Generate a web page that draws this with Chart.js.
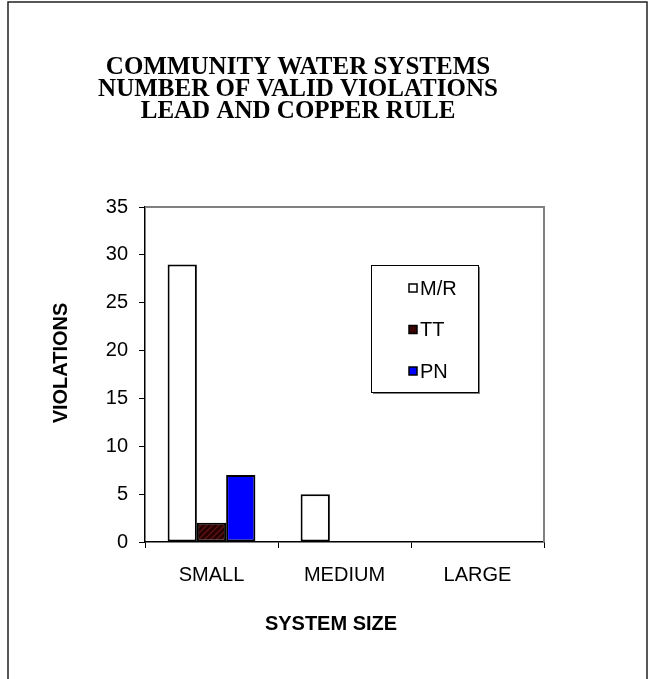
<!DOCTYPE html>
<html>
<head>
<meta charset="utf-8">
<title>Lead and Copper Rule violations</title>
<script src="https://cdn.jsdelivr.net/npm/chart.js@4.4.1/dist/chart.umd.min.js"></script>
<style>
  html, body { margin: 0; padding: 0; background: #fff; }
  canvas { display: block; }
</style>
</head>
<body>
<canvas id="violationsChart" width="655" height="679"></canvas>
<script>
// chart data
const categories = ['SMALL', 'MEDIUM', 'LARGE'];
const seriesNames = ['M/R', 'TT', 'PN'];
const mrValues = [29, 5, 0];
const ttValues = [2, 0, 0];
const pnValues = [7, 0, 0];
const yTicks = [0, 5, 10, 15, 20, 25, 30, 35];

const titleLines = ['COMMUNITY WATER SYSTEMS', 'NUMBER OF VALID VIOLATIONS', 'LEAD AND COPPER RULE'];
const xTitle = 'SYSTEM SIZE';
const yTitle = 'VIOLATIONS';

const sansFont = '"Liberation Sans", Arial, sans-serif';
const serifFont = '"Liberation Serif", "Times New Roman", serif';

// dark maroon with diagonal hatch, like the TT bars
function makeHatch() {
    const c = document.createElement('canvas');
    c.width = 6;
    c.height = 6;
    const g = c.getContext('2d');
    g.fillStyle = '#260000';
    g.fillRect(0, 0, 6, 6);
    g.strokeStyle = '#5c1414';
    g.lineWidth = 1.3;
    g.beginPath();
    g.moveTo(-1, 7); g.lineTo(7, -1);
    g.moveTo(-4, 4); g.lineTo(4, -4);
    g.moveTo(2, 10); g.lineTo(10, 2);
    g.stroke();
    return g.createPattern(c, 'repeat');
}

const hatch = makeHatch();

// frame, plot border, titles and the boxed legend
const decorations = {
    id: 'decorations',
    beforeDraw(chart) {
        const ctx = chart.ctx;
        ctx.save();
        ctx.fillStyle = '#fff';
        ctx.fillRect(0, 0, chart.width, chart.height);
        ctx.strokeStyle = '#222';
        ctx.lineWidth = 1.5;
        ctx.beginPath();
        ctx.moveTo(8, chart.height + 2);
        ctx.lineTo(8, 2);
        ctx.lineTo(647, 2);
        ctx.lineTo(647, chart.height + 2);
        ctx.stroke();
        ctx.restore();
    },
    beforeDatasetsDraw(chart) {
        const a = chart.chartArea;
        const ctx = chart.ctx;
        ctx.save();
        ctx.strokeStyle = '#808080';
        ctx.lineWidth = 2;
        ctx.beginPath();
        ctx.moveTo(a.left, a.top);
        ctx.lineTo(a.right, a.top);
        ctx.lineTo(a.right, a.bottom);
        ctx.stroke();
        ctx.restore();
    },
    afterDraw(chart) {
        const ctx = chart.ctx;
        ctx.save();
        ctx.fillStyle = '#000';
        ctx.textAlign = 'center';
        ctx.textBaseline = 'middle';

        ctx.font = 'bold 25px ' + serifFont;
        titleLines.forEach((line, i) => ctx.fillText(line, 298, 68 + i * 22));

        ctx.font = 'bold 20px ' + sansFont;
        ctx.fillText(xTitle, 331, 624);
        ctx.save();
        ctx.translate(61, 363);
        ctx.rotate(-Math.PI / 2);
        ctx.fillText(yTitle, 0, 0);
        ctx.restore();

        // legend box with a grey drop shadow
        const box = { x: 371, y: 265, w: 107, h: 127 };
        ctx.fillStyle = '#808080';
        ctx.fillRect(box.x + 2, box.y + 2, box.w, box.h);
        ctx.fillStyle = '#fff';
        ctx.fillRect(box.x, box.y, box.w, box.h);
        ctx.strokeStyle = '#000';
        ctx.lineWidth = 1;
        ctx.strokeRect(box.x + 0.5, box.y + 0.5, box.w, box.h);

        ctx.textAlign = 'left';
        ctx.font = '20px ' + sansFont;
        chart.data.datasets.forEach((ds, i) => {
            const cy = 288 + i * 41.5;
            ctx.fillStyle = ds.legendColor;
            ctx.fillRect(409, cy - 4, 8, 8);
            ctx.strokeStyle = '#000';
            ctx.lineWidth = 1.5;
            ctx.strokeRect(409, cy - 4, 8, 8);
            ctx.fillStyle = '#000';
            ctx.fillText(ds.label, 420, cy + 1);
        });
        ctx.restore();
    }
};

function buildChart() {
    const canvas = document.getElementById('violationsChart');
    const ctx = canvas.getContext('2d');

    return new Chart(ctx, {
        type: 'bar',
        data: {
            labels: categories,
            datasets: [
                { label: seriesNames[0], data: mrValues, backgroundColor: '#ffffff', legendColor: '#ffffff' },
                { label: seriesNames[1], data: ttValues, backgroundColor: hatch, legendColor: '#3a0505' },
                { label: seriesNames[2], data: pnValues, backgroundColor: '#0000ff', legendColor: '#0000ff' }
            ]
        },
        options: {
            responsive: false,
            animation: false,
            devicePixelRatio: 1,
            layout: { padding: { left: 8, top: 207, right: 111, bottom: 0 } },
            datasets: {
                bar: {
                    borderColor: '#000',
                    borderWidth: 2,
                    borderSkipped: false,
                    categoryPercentage: 0.66,
                    barPercentage: 1.0
                }
            },
            plugins: {
                legend: { display: false },
                title: { display: false },
                tooltip: { enabled: false }
            },
            scales: {
                x: {
                    offset: true,
                    grid: {
                        offset: true,
                        drawOnChartArea: false,
                        tickLength: 6,
                        color: '#000',
                        lineWidth: 1
                    },
                    border: { display: true, color: '#000', width: 1.5 },
                    ticks: {
                        color: '#000',
                        padding: 15,
                        maxRotation: 0,
                        font: { family: sansFont, size: 20 }
                    },
                    afterFit(scale) { scale.height = 137; }
                },
                y: {
                    min: 0,
                    max: 35,
                    afterBuildTicks(scale) { scale.ticks = yTicks.map(v => ({ value: v })); },
                    grid: {
                        drawOnChartArea: false,
                        tickLength: 6,
                        color: '#000',
                        lineWidth: 1
                    },
                    border: { display: true, color: '#000', width: 1.5 },
                    ticks: {
                        color: '#000',
                        padding: 11,
                        font: { family: sansFont, size: 20 }
                    },
                    afterFit(scale) { scale.width = 137; }
                }
            }
        },
        plugins: [decorations]
    });
}

document.addEventListener('DOMContentLoaded', function() {
    try {
        const chart = buildChart();
        console.log('chart area', chart.chartArea);
    } catch (error) {
        console.error('Error building chart:', error);
    }
});
</script>
</body>
</html>
